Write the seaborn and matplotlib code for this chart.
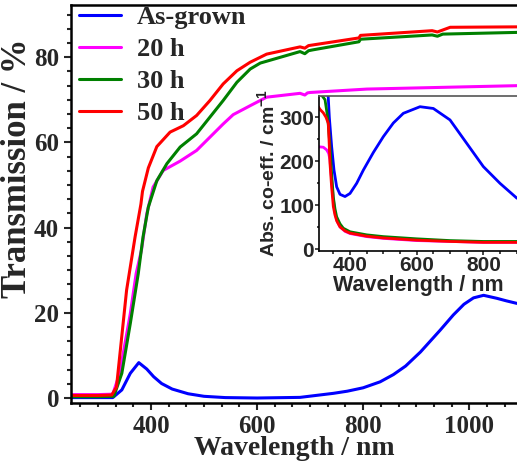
import matplotlib
matplotlib.use("Agg")
import matplotlib.pyplot as plt
from matplotlib.ticker import AutoMinorLocator, MultipleLocator
import seaborn as sns

# main panel: transmission spectra
wl_grown = [250, 300, 328, 345, 361, 377, 392, 405, 420, 440, 470, 500, 540, 600, 681, 744, 770,
            800, 832, 857, 880, 908, 945, 970, 990, 1008, 1027, 1052, 1070, 1090]
tr_grown = [0.1, 0.1, 0.1, 1.9, 5.8, 8.3, 6.8, 5.0, 3.4, 2.1, 1.0, 0.4, 0.1, 0.0, 0.15, 1.1, 1.6,
            2.4, 3.8, 5.5, 7.5, 10.8, 15.9, 19.5, 22.0, 23.5, 24.1, 23.4, 22.8, 22.2]

wl_20 = [250, 300, 328, 341, 361, 372, 382, 392, 404, 423, 455, 486, 511, 536, 555, 587,
         618, 681, 690, 695, 700, 807, 1090]
tr_20 = [0.8, 0.8, 0.9, 5.8, 19.8, 29.2, 34.7, 43.2, 49.5, 53.4, 55.6, 58.1, 61.2, 64.3, 66.5, 68.6,
         70.6, 71.5, 71.1, 71.6, 71.7, 72.5, 73.3]

wl_30 = [250, 300, 330, 345, 361, 376, 385, 395, 411, 430, 455, 486, 511, 536, 562, 587,
         606, 681, 690, 697, 705, 792, 795, 930, 940, 950, 1090]
tr_30 = [0.3, 0.3, 0.4, 5.8, 17.5, 29.2, 37.8, 44.8, 51.0, 55.0, 58.9, 62.0, 65.9, 69.8, 74.1, 77.2,
         78.6, 81.3, 80.8, 81.5, 81.7, 83.6, 84.2, 85.2, 84.9, 85.4, 85.8]

wl_50 = [250, 300, 326, 335, 354, 370, 381, 384, 395, 411, 436, 461, 486, 511, 536, 562,
         587, 618, 681, 690, 697, 792, 795, 930, 940, 964, 1090]
tr_50 = [0.6, 0.6, 0.7, 2.6, 25.3, 37.8, 45.5, 48.5, 54.0, 59.0, 62.4, 63.9, 66.3, 69.8, 73.7, 76.8,
         78.8, 80.7, 82.4, 82.1, 82.7, 84.5, 85.1, 86.2, 85.9, 87.0, 87.1]

# inset: absorption coefficient
ins_wl_grown = [318, 326, 333, 338, 345, 352, 360, 370, 385, 400, 420, 440, 470, 500, 530, 560, 610,
                650, 700, 750, 800, 850, 901]
ins_ab_grown = [420, 400, 370, 300, 233, 180, 142, 125, 120, 127, 150, 180, 220, 256, 287, 309, 324,
                320, 294, 241, 188, 150, 116]
ins_wl_20 = [305, 320, 330, 336, 340, 345, 350, 355, 362, 370, 385, 400, 450, 500, 600, 700, 800, 901]
ins_ab_20 = [233, 232, 226, 218, 203, 157, 115, 82, 63, 51, 41, 36, 29, 25, 20, 18, 16, 16]
ins_wl_30 = [305, 315, 325, 333, 340, 345, 350, 355, 360, 370, 380, 400, 450, 500, 600, 700, 800, 901]
ins_ab_30 = [360, 350, 340, 300, 233, 170, 119, 92, 74, 58, 48, 40, 33, 29, 24, 20, 18, 18]
ins_wl_50 = [305, 310, 320, 328, 335, 340, 345, 350, 355, 360, 370, 385, 400, 450, 500, 600, 700, 800, 901]
ins_ab_50 = [324, 318, 310, 300, 286, 195, 140, 97, 78, 65, 51, 42, 37, 30, 26, 21, 18, 16, 16]

labels = ["As-grown", "20 h", "30 h", "50 h"]
colors = ["#0000ff", "#ff00ff", "#008000", "#ff0000"]

sns.set_style("ticks")
serif = ["Liberation Serif", "DejaVu Serif"]
sans = ["Liberation Sans", "DejaVu Sans"]
plt.rcParams["font.family"] = serif
plt.rcParams["font.weight"] = "bold"
plt.rcParams["mathtext.fontset"] = "custom"
plt.rcParams["mathtext.bf"] = "Liberation Sans:bold"
plt.rcParams["mathtext.rm"] = "Liberation Sans:bold"
plt.rcParams["mathtext.default"] = "bf"

fig = plt.figure(figsize=(5.17, 4.66), dpi=100)
ax = fig.add_axes([71 / 517, 63.3 / 466, 446 / 517, 398 / 466])

main_sets = [(wl_grown, tr_grown), (wl_20, tr_20), (wl_30, tr_30), (wl_50, tr_50)]
for (x, y), lab, c in zip(main_sets, labels, colors):
    sns.lineplot(x=x, y=y, ax=ax, color=c, lw=2.2, label=lab, sort=False)

ax.set_xlim(249.2, 1090)
ax.set_ylim(-1.1, 92.3)
ax.xaxis.set_major_locator(MultipleLocator(200))
ax.xaxis.set_minor_locator(AutoMinorLocator(6))
ax.yaxis.set_major_locator(MultipleLocator(20))
ax.yaxis.set_minor_locator(AutoMinorLocator(6))
ax.tick_params(which="both", direction="out", width=1.5, labelsize=18, top=False, right=False)
ax.tick_params(which="major", length=5)
ax.tick_params(which="minor", length=3)
for s in ["left", "bottom", "top"]:
    ax.spines[s].set_linewidth(1.8)
    ax.spines[s].set_color("black")
ax.spines["right"].set_visible(False)
ax.set_xlabel("Wavelength / nm", fontsize=20, fontweight="bold", labelpad=-1)
ax.set_ylabel("Transmission / %", fontsize=25, fontweight="bold")
ax.yaxis.set_label_coords(-0.082, 0.588)
for t in ax.get_xticklabels() + ax.get_yticklabels():
    t.set_fontweight("bold")

leg = ax.legend(loc="upper left", frameon=False, fontsize=19, handlelength=1.6,
                handletextpad=0.6, labelspacing=0.33, borderaxespad=0.0,
                bbox_to_anchor=(-0.006, 1.025))
for t in leg.get_texts():
    t.set_fontweight("bold")
for h in leg.get_lines():
    h.set_linewidth(2.2)

# inset
ins = fig.add_axes([319 / 517, 215.3 / 466, 198 / 517, 155 / 466])
ins_sets = [(ins_wl_grown, ins_ab_grown), (ins_wl_20, ins_ab_20),
            (ins_wl_30, ins_ab_30), (ins_wl_50, ins_ab_50)]
for (x, y), c in zip(ins_sets, colors):
    sns.lineplot(x=x, y=y, ax=ins, color=c, lw=2, sort=False)
ins.set_xlim(307, 901)
ins.set_ylim(-3, 349)
ins.xaxis.set_major_locator(MultipleLocator(200))
ins.xaxis.set_minor_locator(AutoMinorLocator(4))
ins.yaxis.set_major_locator(MultipleLocator(100))
ins.yaxis.set_minor_locator(AutoMinorLocator(2))
ins.tick_params(which="both", direction="out", width=1.2, labelsize=15, top=False, right=False,
                pad=0.5)
ins.tick_params(which="major", length=3)
ins.tick_params(which="minor", length=1.8)
for s in ["left", "bottom"]:
    ins.spines[s].set_linewidth(1.2)
    ins.spines[s].set_color("black")
ins.spines["top"].set_linewidth(1.2)
ins.spines["top"].set_color("#555555")
ins.spines["right"].set_visible(False)
for t in ins.get_xticklabels() + ins.get_yticklabels():
    t.set_family(sans)
    t.set_fontweight("bold")
ins.set_xlabel("Wavelength / nm", fontsize=15.5, fontweight="bold", family=sans, labelpad=0)
ins.set_ylabel("Abs. co-eff. / cm$^{-1}$", fontsize=14, fontweight="bold", family=sans,
               labelpad=1)

fig.savefig("out.png", dpi=100)
